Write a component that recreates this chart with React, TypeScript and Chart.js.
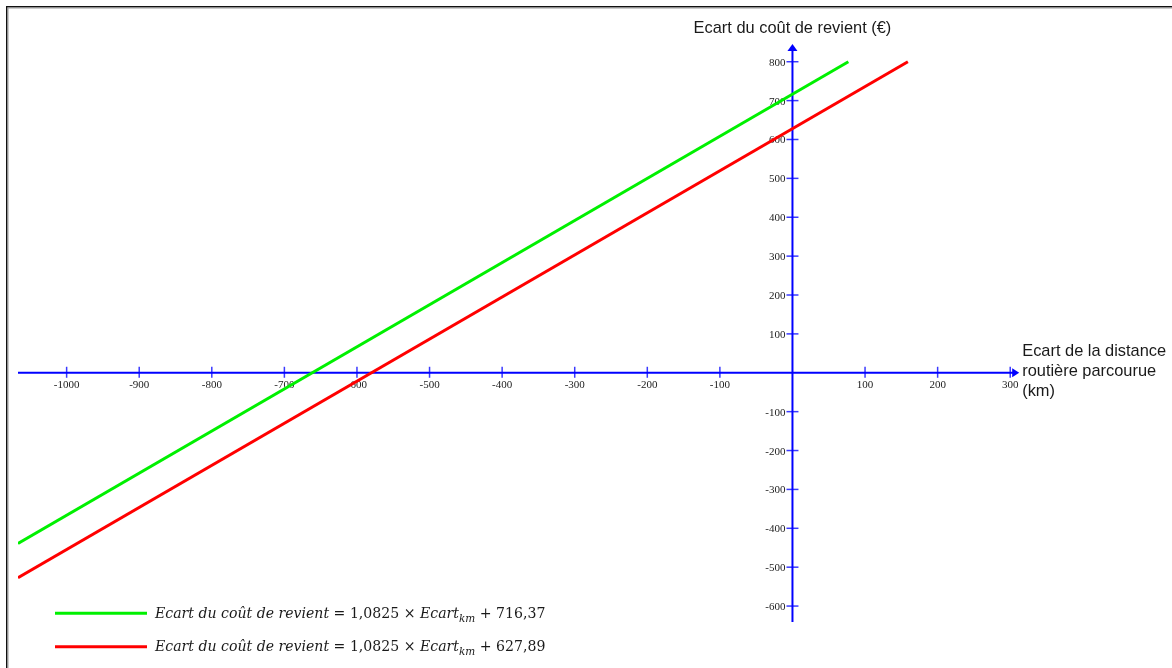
import { useEffect, useRef } from "react";
import { Chart, registerables } from "chart.js";

Chart.register(...registerables);

// ---- data ----
const xTicks = [-1000, -900, -800, -700, -600, -500, -400, -300, -200, -100, 100, 200, 300];
const yTicks = [-600, -500, -400, -300, -200, -100, 100, 200, 300, 400, 500, 600, 700, 800];
const xRange = [-1067, 311];
const yRange = [-641, 843];
const greenSeries = [
  { x: -1067, y: -439 },
  { x: 77, y: 800 },
];
const redSeries = [
  { x: -1067, y: -527 },
  { x: 159, y: 800 },
];
const yAxisTitle = "Ecart du coût de revient (€)";
const xAxisTitle = ["Ecart de la distance", "routière parcourue", "(km)"];
const legendConstants = ["716,37", "627,89"];
const seriesColors = ["#00f000", "#ff0000"];

const AXIS_BLUE = "#0000ff";
const TICK_BLUE = "#3a3aff";

type Part = { t: string; italic?: boolean; sub?: boolean };

function drawParts(ctx: CanvasRenderingContext2D, x: number, y: number, parts: Part[]) {
  let cx = x;
  for (const p of parts) {
    const size = p.sub ? 10.5 : 14.1;
    ctx.font = `${p.italic ? "italic " : ""}${size}px "DejaVu Serif", serif`;
    ctx.fillText(p.t, cx, p.sub ? y + 4 : y);
    cx += ctx.measureText(p.t).width;
  }
}

const axesPlugin = {
  id: "mathAxes",
  beforeDatasetsDraw(chart: any) {
    const ctx: CanvasRenderingContext2D = chart.ctx;
    const xs = chart.scales.x;
    const ys = chart.scales.y;
    const area = chart.chartArea;
    const x0 = xs.getPixelForValue(0);
    const y0 = ys.getPixelForValue(0);
    ctx.save();
    // tick marks
    ctx.strokeStyle = TICK_BLUE;
    ctx.lineWidth = 1.5;
    for (const v of xTicks) {
      const px = xs.getPixelForValue(v);
      ctx.beginPath();
      ctx.moveTo(px, y0 - 6);
      ctx.lineTo(px, y0 + 5);
      ctx.stroke();
    }
    for (const v of yTicks) {
      const py = ys.getPixelForValue(v);
      ctx.beginPath();
      ctx.moveTo(x0 - 6, py);
      ctx.lineTo(x0 + 6, py);
      ctx.stroke();
    }
    // axis lines
    ctx.strokeStyle = AXIS_BLUE;
    ctx.fillStyle = AXIS_BLUE;
    ctx.lineWidth = 2;
    ctx.beginPath();
    ctx.moveTo(area.left, y0);
    ctx.lineTo(area.right - 4, y0);
    ctx.stroke();
    ctx.beginPath();
    ctx.moveTo(x0, area.bottom);
    ctx.lineTo(x0, area.top + 4);
    ctx.stroke();
    // arrows
    ctx.beginPath();
    ctx.moveTo(area.right + 1, y0);
    ctx.lineTo(area.right - 6, y0 - 4.5);
    ctx.lineTo(area.right - 6, y0 + 4.5);
    ctx.closePath();
    ctx.fill();
    ctx.beginPath();
    ctx.moveTo(x0, area.top - 1);
    ctx.lineTo(x0 - 5, area.top + 6);
    ctx.lineTo(x0 + 5, area.top + 6);
    ctx.closePath();
    ctx.fill();
    // tick labels
    ctx.fillStyle = "#222";
    ctx.font = '11px "Liberation Serif", serif';
    ctx.textBaseline = "alphabetic";
    ctx.textAlign = "center";
    for (const v of xTicks) {
      ctx.fillText(String(v), xs.getPixelForValue(v), y0 + 15);
    }
    ctx.textAlign = "right";
    for (const v of yTicks) {
      ctx.fillText(String(v), x0 - 7, ys.getPixelForValue(v) + 4);
    }
    ctx.restore();
  },
  afterDraw(chart: any) {
    const ctx: CanvasRenderingContext2D = chart.ctx;
    const xs = chart.scales.x;
    const ys = chart.scales.y;
    const area = chart.chartArea;
    const x0 = xs.getPixelForValue(0);
    const y0 = ys.getPixelForValue(0);
    ctx.save();
    // axis titles
    ctx.fillStyle = "#1a1a1a";
    ctx.font = '16.4px "Liberation Sans", Arial, sans-serif';
    ctx.textAlign = "center";
    ctx.textBaseline = "alphabetic";
    ctx.fillText(yAxisTitle, x0, 32.5);
    ctx.textAlign = "left";
    xAxisTitle.forEach((line, i) => {
      ctx.fillText(line, area.right + 4, y0 - 16.5 + i * 20);
    });
    // legend
    const rows = [613.3, 646.7];
    legendConstants.forEach((c, i) => {
      ctx.strokeStyle = seriesColors[i];
      ctx.lineWidth = 3;
      ctx.beginPath();
      ctx.moveTo(55, rows[i]);
      ctx.lineTo(147, rows[i]);
      ctx.stroke();
      ctx.fillStyle = "#1a1a1a";
      drawParts(ctx, 155, rows[i] + 4.5, [
        { t: "Ecart du coût de revient", italic: true },
        { t: " = 1,0825 × " },
        { t: "Ecart", italic: true },
        { t: "km", italic: true, sub: true },
        { t: " + " + c },
      ]);
    });
    // frame
    ctx.fillStyle = "#111";
    ctx.fillRect(6, 6, 1166, 1.5);
    ctx.fillRect(6, 6, 1.5, 662);
    ctx.fillStyle = "#9a9a9a";
    ctx.fillRect(7.5, 7.5, 1164.5, 1);
    ctx.fillRect(7.5, 7.5, 1, 660.5);
    ctx.restore();
  },
};

export default function App() {
  const ref = useRef<HTMLCanvasElement | null>(null);
  useEffect(() => {
    if (!ref.current) return;
    const chart = new Chart(ref.current, {
      type: "line",
      data: {
        datasets: [
          {
            data: greenSeries,
            borderColor: seriesColors[0],
            borderWidth: 3,
            pointRadius: 0,
            fill: false,
          },
          {
            data: redSeries,
            borderColor: seriesColors[1],
            borderWidth: 3,
            pointRadius: 0,
            fill: false,
          },
        ],
      },
      options: {
        animation: false,
        responsive: false,
        devicePixelRatio: 1,
        layout: { padding: { left: 18, top: 45, right: 153.8, bottom: 46 } },
        plugins: { legend: { display: false }, tooltip: { enabled: false } },
        scales: {
          x: { type: "linear", min: xRange[0], max: xRange[1], display: false },
          y: { type: "linear", min: yRange[0], max: yRange[1], display: false },
        },
      },
      plugins: [axesPlugin],
    });
    return () => chart.destroy();
  }, []);
  return (
    <div style={{ position: "fixed", left: 0, top: 0, width: 1172, height: 668, background: "#fff" }}>
      <canvas ref={ref} width={1172} height={668} style={{ width: 1172, height: 668, display: "block" }} />
    </div>
  );
}
